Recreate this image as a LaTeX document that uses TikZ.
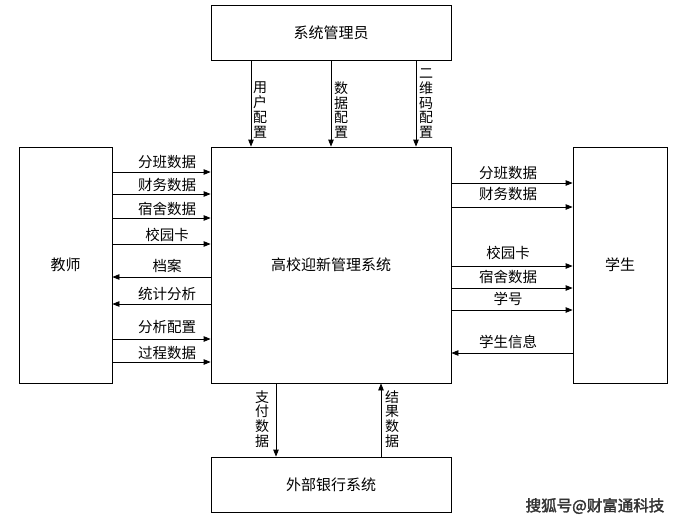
\documentclass[tikz,border=0pt]{standalone}
\usepackage{fontspec}
\newfontfamily\cjk{Noto Sans CJK SC}
\newfontfamily\cjkb[FakeBold=2]{Noto Sans CJK SC}
\usetikzlibrary{arrows.meta}
\begin{document}
\begin{tikzpicture}[x=1pt,y=-1pt,
  box/.style={draw, line width=0.8pt, inner sep=0pt, font=\cjk\fontsize{15}{16}\selectfont},
  lbl/.style={font=\cjk\fontsize{14.5}{15}\selectfont, inner sep=0pt, align=center},
  vlbl/.style={font=\cjk\fontsize{14}{14.7}\selectfont, inner sep=0pt, align=center},
  flow/.style={line width=0.8pt, -{Triangle[length=7pt,width=5.5pt]}}]
\useasboundingbox (0,0) rectangle (680,523);
\fill[white] (0,0) rectangle (680,523);

% boxes
\node[box, minimum width=240pt, minimum height=55pt] (admin) at (331,32.5) {系统管理员};
\node[box, minimum width=240pt, minimum height=236pt] (main) at (331,265) {高校迎新管理系统};
\node[box, minimum width=93pt, minimum height=236pt] (teacher) at (65.5,265) {教师};
\node[box, minimum width=94pt, minimum height=236pt] (student) at (620,265) {学生};
\node[box, minimum width=240pt, minimum height=55pt] (bank) at (331,484.5) {外部银行系统};

% reference coordinates
\coordinate (xa) at (251,0);
\coordinate (xb) at (331,0);
\coordinate (xc) at (416,0);
\coordinate (xd) at (276,0);
\coordinate (xe) at (381,0);
\foreach \n/\y in {l1/172,l2/194,l3/218,l4/244,l5/277,l6/304,l7/339,l8/362,
                   r1/183,r2/207,r3/266,r4/288,r5/310,r6/353}
  \coordinate (\n) at (0,\y);

% admin -> main
\draw[flow] (admin.south -| xa) -- (main.north -| xa);
\draw[flow] (admin.south -| xb) -- (main.north -| xb);
\draw[flow] (admin.south -| xc) -- (main.north -| xc);
\node[vlbl] (ta) at (260,110) {用\\户\\配\\置};
\node[vlbl] (tb) at (341,110) {数\\据\\配\\置};
\node[vlbl] (tc) at (426,103.5) {二\\维\\码\\配\\置};

% main <-> bank
\draw[flow] (main.south -| xd) -- (bank.north -| xd);
\draw[flow] (bank.north -| xe) -- (main.south -| xe);
\node[vlbl] (tp) at (262,419) {支\\付\\数\\据};
\node[vlbl] (tr) at (392,419) {结\\果\\数\\据};

% teacher <-> main
\draw[flow] (teacher.east |- l1) -- (main.west |- l1);
\draw[flow] (teacher.east |- l2) -- (main.west |- l2);
\draw[flow] (teacher.east |- l3) -- (main.west |- l3);
\draw[flow] (teacher.east |- l4) -- (main.west |- l4);
\draw[flow] (main.west |- l5) -- (teacher.east |- l5);
\draw[flow] (main.west |- l6) -- (teacher.east |- l6);
\draw[flow] (teacher.east |- l7) -- (main.west |- l7);
\draw[flow] (teacher.east |- l8) -- (main.west |- l8);
\node[lbl] (t1) at (167,162) {分班数据};
\node[lbl] (t2) at (167,185) {财务数据};
\node[lbl] (t3) at (167,209) {宿舍数据};
\node[lbl] (t4) at (167,235) {校园卡};
\node[lbl] (t5) at (167,266) {档案};
\node[lbl] (t6) at (167,294) {统计分析};
\node[lbl] (t7) at (167,327) {分析配置};
\node[lbl] (t8) at (167,353) {过程数据};

% main <-> student
\draw[flow] (main.east |- r1) -- (student.west |- r1);
\draw[flow] (main.east |- r2) -- (student.west |- r2);
\draw[flow] (main.east |- r3) -- (student.west |- r3);
\draw[flow] (main.east |- r4) -- (student.west |- r4);
\draw[flow] (main.east |- r5) -- (student.west |- r5);
\draw[flow] (student.west |- r6) -- (main.east |- r6);
\node[lbl] (s1) at (508,173) {分班数据};
\node[lbl] (s2) at (508,194) {财务数据};
\node[lbl] (s3) at (508,253) {校园卡};
\node[lbl] (s4) at (508,277) {宿舍数据};
\node[lbl] (s5) at (508,299) {学号};
\node[lbl] (s6) at (508,342) {学生信息};

% watermark
\node[font=\cjkb\fontsize{15.5}{15.5}\selectfont, text=black!80, inner sep=0pt] (wm) at (595,506) {搜狐号@财富通科技};
\end{tikzpicture}
\end{document}
